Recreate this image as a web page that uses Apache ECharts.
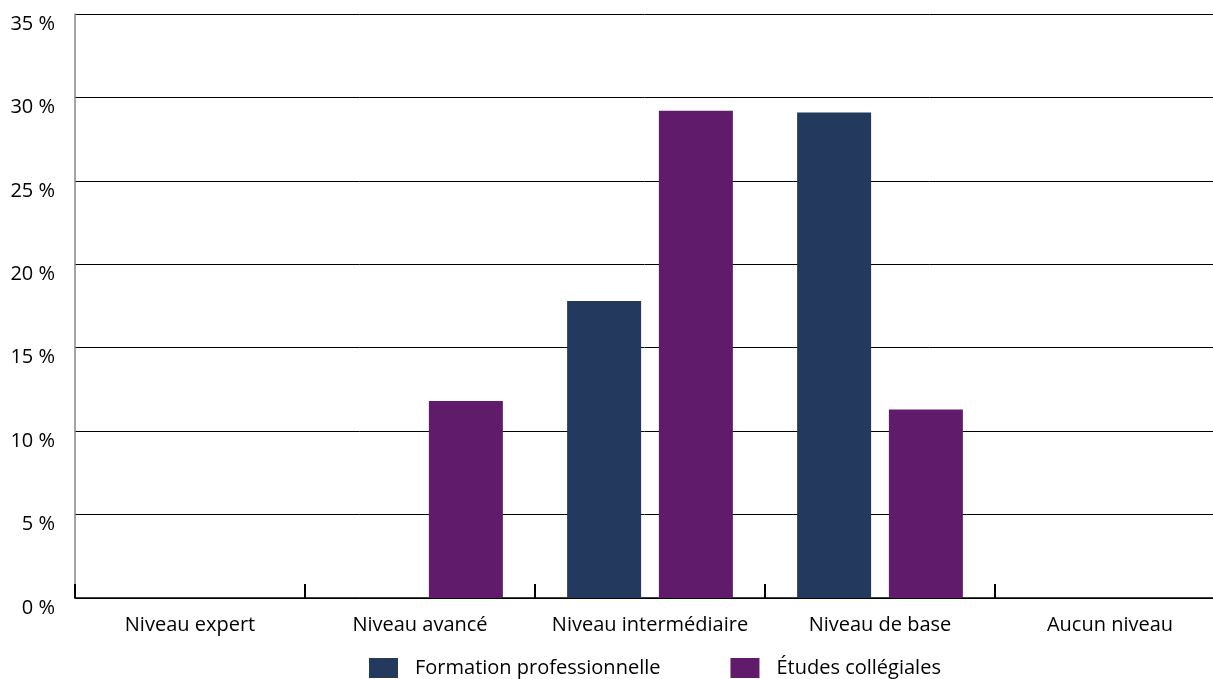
<!DOCTYPE html>
<html>
<head>
<meta charset="utf-8">
<script src="https://cdn.jsdelivr.net/npm/echarts@6/dist/echarts.min.js"></script>
<style>
  html, body { margin: 0; padding: 0; background: #fff; }
  #chart { width: 1213px; height: 679px; }
</style>
</head>
<body>
<div id="chart"></div>
<script>
  const categories = ['Niveau expert', 'Niveau avancé', 'Niveau intermédiaire', 'Niveau de base', 'Aucun niveau'];
  const formationPro = [0, 0, 17.8, 29.1, 0];
  const etudesColl = [0, 11.8, 29.2, 11.3, 0];
  const yTicks = [0, 5, 10, 15, 20, 25, 30, 35];

  const chart = echarts.init(document.getElementById('chart'));
  chart.setOption({
    animation: false,
    textStyle: {fontFamily: 'Open Sans', color: '#000'},
    grid: {left: 75, width: 1150, top: 14, height: 584, containLabel: false, outerBoundsMode: 'none'},
    legend: {
      top: 658,
      left: 369,
      padding: 0,
      itemWidth: 29,
      itemHeight: 20,
      itemGap: 70,
      icon: 'rect',
      textStyle: {fontSize: 20, color: '#000', padding: [0, 0, 0, 12]},
      data: ['Formation professionnelle', 'Études collégiales']
    },
    xAxis: {
      type: 'category',
      data: categories,
      axisLine: {lineStyle: {color: '#000', width: 1.5}},
      axisTick: {show: true, inside: true, length: 14, interval: 0, lineStyle: {color: '#000', width: 2}},
      axisLabel: {fontSize: 20, color: '#000', margin: 17, interval: 0}
    },
    yAxis: {
      type: 'value',
      min: yTicks[0],
      max: yTicks[yTicks.length - 1],
      interval: 5,
      axisLine: {show: true, lineStyle: {color: '#888', width: 1.5}},
      axisTick: {show: false},
      splitLine: {lineStyle: {color: '#000', width: 1}},
      axisLabel: {
        fontSize: 20, color: '#000', margin: 20,
        verticalAlign: 'top',
        formatter: v => v + ' %'
      }
    },
    series: [
      {name: 'Formation professionnelle', type: 'bar', data: formationPro, barWidth: 74, barGap: '24%', itemStyle: {color: '#233a5e'}},
      {name: 'Études collégiales', type: 'bar', data: etudesColl, barWidth: 74, itemStyle: {color: '#611b6b'}}
    ]
  });
</script>
</body>
</html>
